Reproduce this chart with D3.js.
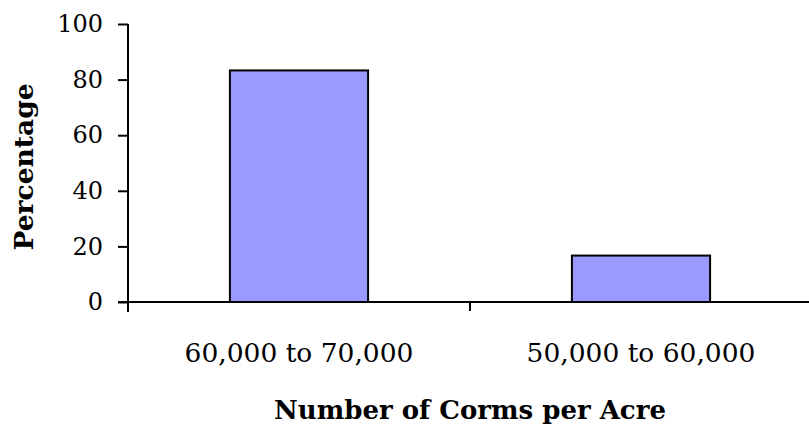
<!DOCTYPE html>
<html><head><meta charset="utf-8">
<script src="https://cdn.jsdelivr.net/npm/d3@7"></script>
<style>body{margin:0;background:#fff}svg{display:block}</style>
</head><body>
<svg id="c" width="809" height="425"></svg>
<script>
const categories = ["60,000 to 70,000", "50,000 to 60,000"];
const values = [83.3, 16.7];
const yTicks = [0, 20, 40, 60, 80, 100];
const xTitle = "Number of Corms per Acre";
const yTitle = "Percentage";

(function () {
const svg = d3.select("#c");
const font = "'DejaVu Serif', serif";
const pL = 128, pR = 812, pT = 24, pB = 302;

const x = d3.scaleBand().domain(categories).range([pL, pR]).padding(0);
const y = d3.scaleLinear().domain([0, 100]).range([pB, pT]);
const barFrac = 0.404;

svg.append("g").selectAll("rect").data(values).join("rect")
  .attr("x", (d, i) => x(categories[i]) + x.bandwidth() * (1 - barFrac) / 2)
  .attr("width", x.bandwidth() * barFrac)
  .attr("y", d => y(d))
  .attr("height", d => y(0) - y(d))
  .attr("fill", "#9999ff").attr("stroke", "#000").attr("stroke-width", 2);

// y axis
const ya = svg.append("g").attr("transform", `translate(${pL},0)`)
  .call(d3.axisLeft(y).tickValues(yTicks).tickSize(10).tickPadding(15));
ya.select(".domain").attr("stroke-width", 2).attr("d", `M0,${pT}V${pB + 10}`);
ya.selectAll(".tick line").attr("stroke-width", 2);
ya.selectAll("text").attr("font-family", font).attr("font-size", 24).attr("fill", "#000");

// x axis
const xa = svg.append("g").attr("transform", `translate(0,${pB})`);
xa.append("line").attr("x1", pL - 10).attr("x2", 809).attr("stroke", "#000").attr("stroke-width", 2);
xa.selectAll("line.t").data(categories.slice(1)).join("line").attr("class", "t")
  .attr("x1", d => x(d)).attr("x2", d => x(d)).attr("y1", 0).attr("y2", 9)
  .attr("stroke", "#000").attr("stroke-width", 2);
xa.selectAll("text").data(categories).join("text")
  .attr("x", d => x(d) + x.bandwidth() / 2).attr("y", 60)
  .attr("text-anchor", "middle").attr("font-family", font).attr("font-size", 26.5)
  .text(d => d);

svg.append("text").attr("x", (pL + pR) / 2).attr("y", 419).attr("text-anchor", "middle")
  .attr("font-family", font).attr("font-weight", "bold").attr("font-size", 26)
  .text(xTitle);
svg.append("text").attr("transform", "translate(33,167) rotate(-90)").attr("text-anchor", "middle")
  .attr("font-family", font).attr("font-weight", "bold").attr("font-size", 26.5)
  .text(yTitle);
})();
</script>
</body></html>
